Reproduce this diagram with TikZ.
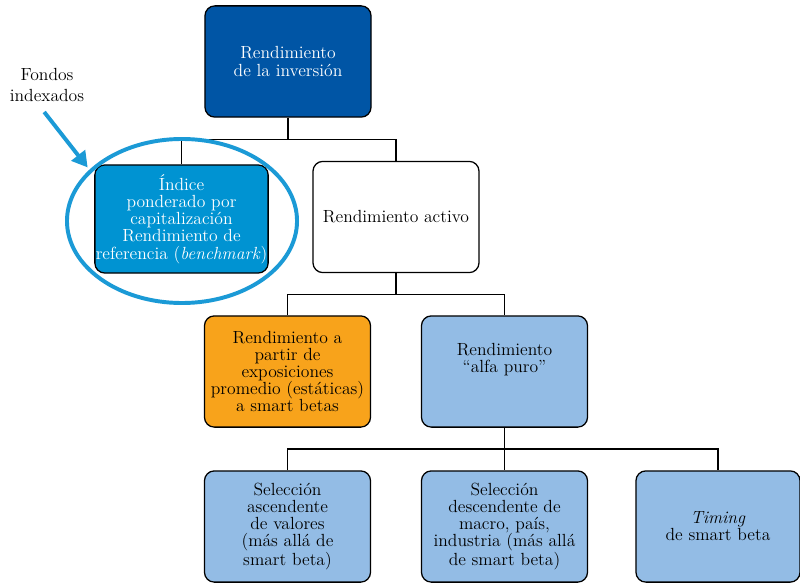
\documentclass[tikz,border=0pt]{standalone}
\usetikzlibrary{calc,shapes.geometric,arrows.meta}

\definecolor{darkblue}{HTML}{0055A5}
\definecolor{indexblue}{HTML}{0093D2}
\definecolor{ringblue}{HTML}{1B9AD6}
\definecolor{alphaorange}{HTML}{F8A31B}
\definecolor{lightblue}{HTML}{93BCE5}

\begin{document}
\begin{tikzpicture}[x=0.025cm, y=-0.025cm, font=\fontsize{12.5}{12.2}\selectfont]
  % Box sizes
  \def\w{4.15cm}
  \def\h{2.78cm}
  \tikzset{
    box/.style={draw, rounded corners=7pt, line width=0.9pt, minimum width=\w,
      minimum height=\h, align=center, inner sep=2pt},
    link/.style={line width=1pt}
  }
  \useasboundingbox (0,0) rectangle (800,583);

  % --- Top level ---
  \node[box, fill=darkblue, text=white] (total) at (288, 61.5) {Rendimiento\\de la inversión};

  % --- Second level ---
  \node[box, fill=indexblue, text=white, minimum width=4.33cm, minimum height=2.7cm,
    inner xsep=0pt] (indice) at (181.5, 219)
    {Índice\\ponderado por\\capitalización\\Rendimiento de\\referencia (\textit{benchmark})};
  \node[box, fill=white] (activo) at (396, 217) {Rendimiento activo};

  % --- Third level ---
  \node[box, fill=alphaorange] (estatico) at (287.5, 371.5)
    {Rendimiento a\\partir de\\exposiciones\\promedio (estáticas)\\a smart betas};
  \node[box, fill=lightblue] (alfa) at (504.5, 371.5) {Rendimiento\\``alfa puro''\\[0.6em]};

  % --- Bottom level ---
  \node[box, fill=lightblue] (ascend) at (287.5, 526.5)
    {Selección\\ascendente\\de valores\\(más allá de\\smart beta)};
  \node[box, fill=lightblue] (descend) at (504.5, 526.5)
    {Selección\\descendente de\\macro, país,\\industria (más allá\\de smart beta)};
  \node[box, fill=lightblue, minimum width=4.1cm] (timing) at (718, 526.5)
    {\textit{Timing}\\de smart beta};

  % --- Connectors ---
  \coordinate (j1) at ($(total.south)!0.5!(activo.north)$);
  \draw[link] (total.south) -- (total.south |- j1);
  \draw[link] (indice.north) |- (j1 -| activo.north) -- (activo.north);

  \coordinate (j2) at ($(activo.south)!0.5!(alfa.north)$);
  \draw[link, line width=1.4pt] (activo.south) -- (activo.south |- j2);
  \draw[link] (estatico.north) |- (j2 -| alfa.north) -- (alfa.north);

  \coordinate (j3) at ($(alfa.south)!0.5!(descend.north)$);
  \draw[link, line width=1.4pt] (alfa.south) -- (descend.north);
  \draw[link] (ascend.north) |- (j3 -| timing.north) -- (timing.north);

  % --- Index funds highlight ---
  \node[draw=ringblue, line width=2.8pt, ellipse, minimum width=5.75cm,
    minimum height=4.1cm, inner sep=0pt] (ring) at (182, 221) {};
  \node[align=center, font=\fontsize{12.5}{14.5}\selectfont] (fondos) at (47, 85) {Fondos\\indexados};
  \draw[ringblue, line width=2.8pt, -{Triangle[length=11pt, width=12pt]}, shorten >=2pt]
    ([xshift=-2pt, yshift=-4pt]fondos.south) -- (ring.151);

\end{tikzpicture}
\end{document}
